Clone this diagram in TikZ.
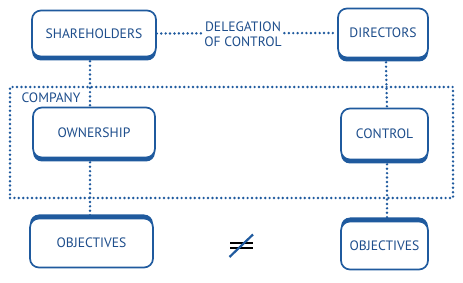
\documentclass[tikz,border=0pt]{standalone}
\usepackage{fontspec}
\setmainfont{PT Sans}
\definecolor{cblue}{HTML}{1F5A9E}
\definecolor{tblue}{HTML}{1E4E8C}
\begin{document}
\begin{tikzpicture}[x=1pt,y=-1pt,
  lbl/.style={font=\fontsize{13.6}{16}\selectfont, text=tblue},
  boxbase/.style={lbl, draw=cblue, line width=1.7pt, rounded corners=9pt, fill=white, inner sep=0pt, align=center},
  boxlow/.style={boxbase, preaction={fill=cblue, transform canvas={yshift=-4pt}}},
  boxhigh/.style={boxbase, preaction={fill=cblue, transform canvas={yshift=4pt}}},
  dots/.style={draw=cblue, line width=2.7pt, line cap=round, dash pattern=on 0pt off 4.4pt},
]
\useasboundingbox (0,0) rectangle (463,283);
% company frame
\node[dots, minimum width=443pt, minimum height=111pt, inner sep=0pt] (company) at (231.5,142.5) {};
\node[lbl, anchor=west] (complbl) at (18,98) {COMPANY};
% boxes
\node[boxlow, minimum width=124pt, minimum height=46pt] (sh) at (94,33.5) {SHAREHOLDERS};
\node[boxlow, minimum width=90pt, minimum height=49pt] (dir) at (383,33) {DIRECTORS};
\node[boxlow, minimum width=122pt, minimum height=50pt] (own) at (94,132.5) {OWNERSHIP};
\node[boxlow, minimum width=87pt, minimum height=51pt] (ctl) at (384.5,134) {CONTROL};
\node[boxhigh, minimum width=123pt, minimum height=49pt] (objl) at (91.5,243) {OBJECTIVES};
\node[boxhigh, minimum width=87pt, minimum height=48pt] (objr) at (384.5,245.5) {OBJECTIVES};
% connectors
\draw[dots] (sh.east) -- (dir.west);
\node[lbl, align=center, fill=white, inner sep=1pt] (deleg) at (243,34.5) {DELEGATION\\[-1pt]OF CONTROL};
\draw[dots] ([xshift=-4pt]sh.south) ++(0,4) -- ([xshift=-4pt]own.north);
\draw[dots] ([xshift=3pt]dir.south) ++(0,4) -- ([xshift=2.5pt]ctl.north);
\draw[dots] ([xshift=-4pt]own.south) ++(0,4) -- ([xshift=-1.5pt]objl.north) ++(0,-4);
\draw[dots] ([xshift=2.5pt]ctl.south) ++(0,4) -- ([xshift=2.5pt]objr.north);
% not equal
\node[inner sep=0pt, minimum width=24pt, minimum height=24pt] (neq) at (241.5,245.5) {};
\draw[black, line width=2.3pt] ([xshift=-11.5pt,yshift=-2.6pt]neq.center) -- ([xshift=11.5pt,yshift=-2.6pt]neq.center);
\draw[black, line width=2.3pt] ([xshift=-11.5pt,yshift=2.6pt]neq.center) -- ([xshift=11.5pt,yshift=2.6pt]neq.center);
\draw[cblue, line width=2.2pt] ([xshift=-12pt,yshift=-11.5pt]neq.center) -- ([xshift=11.5pt,yshift=11pt]neq.center);
\end{tikzpicture}
\end{document}
